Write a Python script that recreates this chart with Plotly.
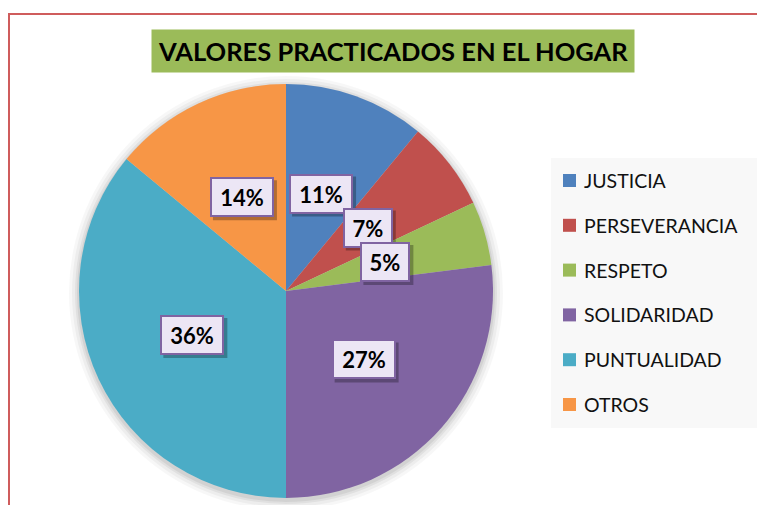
import math
import plotly.graph_objects as go

categories = ["JUSTICIA", "PERSEVERANCIA", "RESPETO", "SOLIDARIDAD", "PUNTUALIDAD", "OTROS"]
values = [11, 7, 5, 27, 36, 14]
colors = ["#4F81BD", "#C0504D", "#9BBB59", "#8064A2", "#4BACC6", "#F79646"]
title_text = "VALORES PRACTICADOS EN EL HOGAR"

W, H = 765, 505
OFF = 8  # page body margin
FONT = "Lato"


def px(x):
    return (x - OFF) / W


def py(y):
    return 1 - (y - OFF) / H


# pie placement (screen pixels)
cx_px, cy_px, R_px = 286, 291, 207
dom_x = [px(cx_px - R_px), px(cx_px + R_px)]
dom_y = [py(cy_px + R_px), py(cy_px - R_px)]

fig = go.Figure()
fig.add_trace(go.Pie(
    labels=categories, values=values, sort=False, direction="clockwise", rotation=0,
    marker=dict(colors=colors, line=dict(width=0)),
    textinfo="none", hoverinfo="label+percent", showlegend=False,
    domain=dict(x=dom_x, y=dom_y),
))

shapes = []
annotations = []

# soft shadow around pie
for dr, op in [(10, 0.03), (7, 0.04), (4, 0.05), (2, 0.06)]:
    shapes.append(dict(type="circle", xref="paper", yref="paper", layer="below",
                       x0=px(cx_px - R_px - dr), x1=px(cx_px + R_px + dr),
                       y0=py(cy_px + R_px + dr + 2), y1=py(cy_px - R_px - dr + 2),
                       fillcolor=f"rgba(0,0,0,{op})", line=dict(width=0)))

# red chart border
shapes.append(dict(type="rect", xref="paper", yref="paper",
                   x0=px(9), x1=1.05, y0=-0.05, y1=py(14),
                   line=dict(color="#CF5C5C", width=2), fillcolor="rgba(0,0,0,0)"))

# data labels
total = sum(values)
cum = 0
box_h = 40
for v in values:
    mid = (cum + v / 2) / total * 2 * math.pi
    cum += v
    lx = cx_px + 0.5 * R_px * math.sin(mid)
    ly = cy_px - 0.5 * R_px * math.cos(mid)
    pct = f"{round(v / total * 100)}%"
    box_w = 36 + 14 * (len(pct) - 1)
    # drop shadow
    shapes.append(dict(type="rect", xref="paper", yref="paper", layer="above",
                       x0=px(lx - box_w / 2 + 3), x1=px(lx + box_w / 2 + 3),
                       y0=py(ly + box_h / 2 + 3), y1=py(ly - box_h / 2 + 3),
                       fillcolor="rgba(0,0,0,0.28)", line=dict(width=0)))
    annotations.append(dict(x=px(lx), y=py(ly), xref="paper", yref="paper",
                            xanchor="center", yanchor="middle", showarrow=False,
                            text=f"<b>{pct}</b>", width=box_w - 6, height=box_h - 6,
                            borderwidth=2, borderpad=1,
                            font=dict(family=FONT, size=22, color="black"),
                            bgcolor="#ECE6F5", bordercolor="#8064A2"))

# title
annotations.append(dict(x=px(393), y=py(51.5), xref="paper", yref="paper",
                        xanchor="center", yanchor="middle",
                        text=f"<b>{title_text}</b>", showarrow=False,
                        font=dict(family=FONT, size=25.5, color="black"),
                        bgcolor="#9BBB59", borderpad=6))

# legend (built from categories/colors)
lg_x0, lg_x1, lg_y0, lg_y1 = 551, 760, 158, 428
shapes.append(dict(type="rect", xref="paper", yref="paper", layer="below",
                   x0=px(lg_x0), x1=px(lg_x1), y0=py(lg_y1), y1=py(lg_y0),
                   fillcolor="#F8F8F8", line=dict(width=0)))
row0, step = 180.5, 44.8
for i, (c, col) in enumerate(zip(categories, colors)):
    yc = row0 + i * step
    shapes.append(dict(type="rect", xref="paper", yref="paper",
                       x0=px(563), x1=px(576), y0=py(yc + 6.5), y1=py(yc - 6.5),
                       fillcolor=col, line=dict(width=0)))
    annotations.append(dict(x=px(582), y=py(yc), xref="paper", yref="paper",
                            xanchor="left", yanchor="middle", text=c, showarrow=False,
                            font=dict(family=FONT, size=19.5, color="#111111")))

fig.update_layout(
    width=W, height=H, margin=dict(l=0, r=0, t=0, b=0),
    paper_bgcolor="white", plot_bgcolor="white",
    shapes=shapes, annotations=annotations, showlegend=False,
)
fig.write_html("out.html")
